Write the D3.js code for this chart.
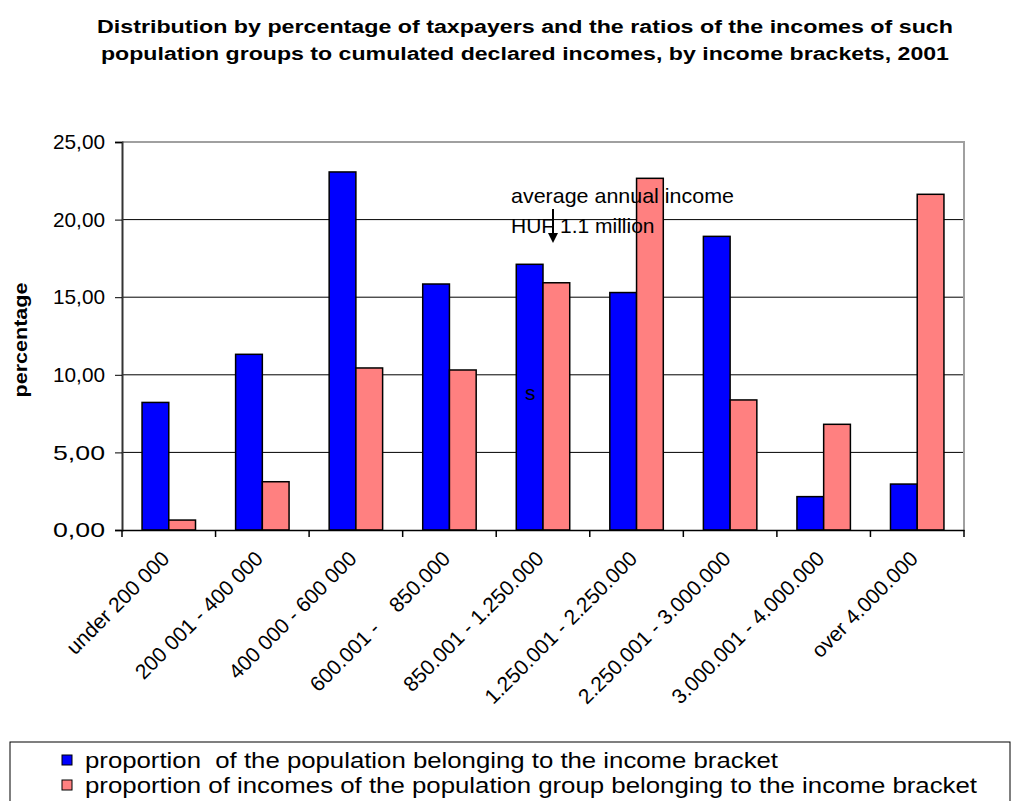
<!DOCTYPE html>
<html>
<head>
<meta charset="utf-8">
<script src="https://cdn.jsdelivr.net/npm/d3@7"></script>
<style>
  body { margin: 0; background: #fff; }
  svg { display: block; font-family: "Liberation Sans", Arial, sans-serif; }
</style>
</head>
<body>
<div id="chart"></div>
<script>
// data
const brackets = [
  "under 200 000",
  "200 001 - 400 000",
  "400 000 - 600 000",
  "600.001 -    850.000",
  "850.001 - 1.250.000",
  "1.250.001 - 2.250.000",
  "2.250.001 - 3.000.000",
  "3.000.001 - 4.000.000",
  "over 4.000.000"
];
const populationShare = [8.22, 11.32, 23.07, 15.85, 17.12, 15.3, 18.92, 2.15, 2.96];
const incomeShare = [0.64, 3.11, 10.44, 10.31, 15.93, 22.66, 8.38, 6.81, 21.63];
const yTicks = [0, 5, 10, 15, 20, 25];
const seriesNames = [
  "proportion  of the population belonging to the income bracket",
  "proportion of incomes of the population group belonging to the income bracket"
];
const seriesColors = ["#0000ff", "#ff8080"];
const titleLines = [
  "Distribution by percentage of taxpayers and the ratios of the incomes of such",
  "population groups to cumulated declared incomes, by income brackets, 2001"
];

const W = 1012, H = 801;
const plot = { left: 122, right: 964, top: 142, bottom: 530 };

const svg = d3.select("#chart").append("svg")
  .attr("width", W).attr("height", H);

// title
svg.selectAll(".title")
  .data(titleLines)
  .enter().append("text")
  .attr("class", "title")
  .attr("x", 525)
  .attr("y", (d, i) => 33 + i * 27)
  .attr("text-anchor", "middle")
  .attr("font-size", 18)
  .attr("font-weight", "bold")
  .attr("textLength", (d, i) => i === 0 ? 856 : 848)
  .attr("lengthAdjust", "spacingAndGlyphs")
  .text(d => d);

// scales
const x0 = d3.scaleBand()
  .domain(brackets)
  .range([plot.left, plot.right]);

const x1 = d3.scaleBand()
  .domain([0, 1])
  .range([0, x0.bandwidth()])
  .paddingOuter(0.75);

const y = d3.scaleLinear()
  .domain([0, 25])
  .range([plot.bottom, plot.top]);

// gridlines
svg.append("g")
  .selectAll("line")
  .data(yTicks.filter(t => t > 0 && t < 25))
  .enter().append("line")
  .attr("x1", plot.left).attr("x2", plot.right)
  .attr("y1", d => y(d)).attr("y2", d => y(d))
  .attr("stroke", "#000").attr("stroke-width", 1);

// plot frame (top + right grey)
svg.append("path")
  .attr("d", `M${plot.left},${plot.top}H${plot.right}V${plot.bottom}`)
  .attr("fill", "none")
  .attr("stroke", "#a0a0a0")
  .attr("stroke-width", 2);

// bars
const groups = svg.append("g")
  .selectAll("g")
  .data(brackets.map((b, i) => ({ b, vals: [populationShare[i], incomeShare[i]] })))
  .enter().append("g")
  .attr("transform", d => `translate(${x0(d.b)},0)`);

groups.selectAll("rect")
  .data(d => d.vals.map((v, k) => ({ v, k })))
  .enter().append("rect")
  .attr("x", d => x1(d.k))
  .attr("y", d => y(d.v))
  .attr("width", x1.bandwidth())
  .attr("height", d => y(0) - y(d.v))
  .attr("fill", d => seriesColors[d.k])
  .attr("stroke", "#000")
  .attr("stroke-width", 1.5);

// y axis
const yAxis = svg.append("g")
  .attr("transform", `translate(${plot.left},0)`)
  .call(d3.axisLeft(y).tickValues(yTicks).tickSize(7).tickPadding(10)
    .tickFormat(d => d3.format(".2f")(d).replace(".", ",")));
yAxis.select(".domain").attr("stroke", "#333").attr("stroke-width", 2);
yAxis.selectAll("text")
  .attr("font-size", 21)
  .attr("textLength", 52)
  .attr("lengthAdjust", "spacingAndGlyphs")
  .attr("font-family", "Liberation Sans, Arial, sans-serif")
  .attr("fill", "#000");

// x axis
const xAxis = svg.append("g")
  .attr("transform", `translate(0,${plot.bottom})`)
  .call(d3.axisBottom(x0).tickSize(0).tickFormat(""));
xAxis.select(".domain").attr("stroke", "#000").attr("stroke-width", 1.5);

// tick marks at band boundaries
svg.append("g")
  .selectAll("line")
  .data(brackets.map(b => x0(b)).concat([plot.right]))
  .enter().append("line")
  .attr("x1", d => d).attr("x2", d => d)
  .attr("y1", plot.bottom).attr("y2", plot.bottom + 7)
  .attr("stroke", "#000").attr("stroke-width", 1.5);

// rotated category labels
svg.append("g")
  .selectAll("text")
  .data(brackets)
  .enter().append("text")
  .attr("transform", d => `translate(${x0(d) + x0.bandwidth() / 2 + 2},${plot.bottom + 30}) rotate(-45)`)
  .attr("text-anchor", "end")
  .attr("font-size", 21)
  .style("white-space", "pre")
  .text(d => d);

// y axis title
svg.append("text")
  .attr("transform", `translate(27,340) rotate(-90)`)
  .attr("text-anchor", "middle")
  .attr("font-size", 18)
  .attr("font-weight", "bold")
  .attr("textLength", 115)
  .attr("lengthAdjust", "spacingAndGlyphs")
  .text("percentage");

// annotation
const note = svg.append("g");
note.append("text")
  .attr("x", 511).attr("y", 203)
  .attr("font-size", 21)
  .attr("textLength", 223)
  .attr("lengthAdjust", "spacingAndGlyphs")
  .text("average annual income");
note.append("text")
  .attr("x", 511).attr("y", 233)
  .attr("font-size", 21)
  .text("HUF 1.1 million");
note.append("line")
  .attr("x1", 553).attr("x2", 553)
  .attr("y1", 209).attr("y2", 234)
  .attr("stroke", "#000").attr("stroke-width", 2);
note.append("path")
  .attr("d", "M548,233 L558,233 L553,243 Z")
  .attr("fill", "#000");
note.append("text")
  .attr("x", 525).attr("y", 400)
  .attr("font-size", 21)
  .text("s");

// legend
const legend = svg.append("g");
legend.append("rect")
  .attr("x", 10).attr("y", 742)
  .attr("width", 1000).attr("height", 80)
  .attr("fill", "#fff")
  .attr("stroke", "#000")
  .attr("stroke-width", 1);

const rows = legend.selectAll(".row")
  .data(seriesNames)
  .enter().append("g")
  .attr("transform", (d, i) => `translate(0,${i * 25})`);

rows.append("rect")
  .attr("x", 62).attr("y", 755)
  .attr("width", 10).attr("height", 10)
  .attr("fill", (d, i) => seriesColors[i])
  .attr("stroke", "#000").attr("stroke-width", 1);

rows.append("text")
  .attr("x", 85).attr("y", 768)
  .attr("font-size", 22)
  .attr("textLength", (d, i) => i === 0 ? 693 : 892)
  .attr("lengthAdjust", "spacingAndGlyphs")
  .style("white-space", "pre")
  .text(d => d);
</script>
</body>
</html>
